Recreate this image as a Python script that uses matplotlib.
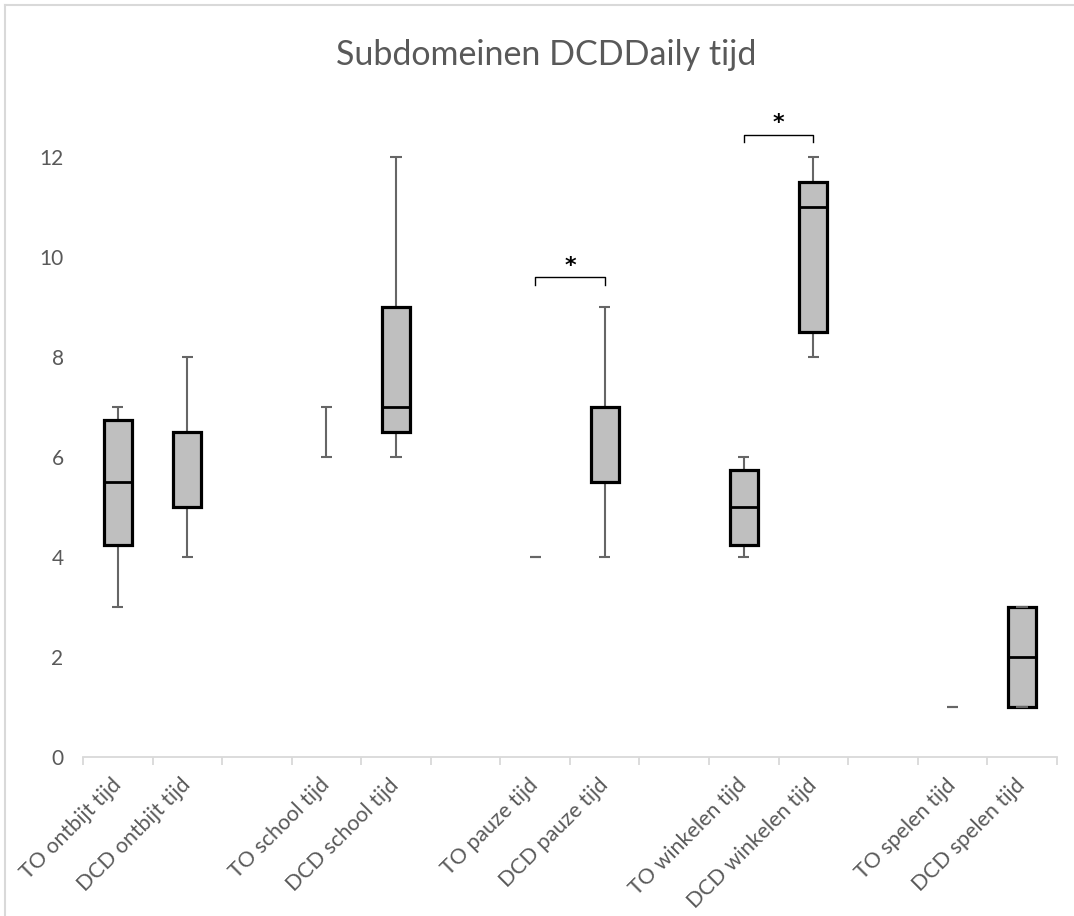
import matplotlib
matplotlib.use("Agg")
import matplotlib.pyplot as plt
from matplotlib.lines import Line2D
import numpy as np

plt.rcParams['font.family'] = ['Lato', 'DejaVu Sans']

# 14 slots, empty slots separate the pairs
labels = ['TO ontbijt tijd', 'DCD ontbijt tijd', '',
          'TO school tijd', 'DCD school tijd', '',
          'TO pauze tijd', 'DCD pauze tijd', '',
          'TO winkelen tijd', 'DCD winkelen tijd', '',
          'TO spelen tijd', 'DCD spelen tijd']
whisk_lo = [3, 4, None, 6, 6, None, 4, 4, None, 4, 8, None, 1, 1]
whisk_hi = [7, 8, None, 7, 12, None, 4, 9, None, 6, 12, None, 1, 3]
q1 = [4.25, 5, None, None, 6.5, None, None, 5.5, None, 4.25, 8.5, None, None, 1]
q3 = [6.75, 6.5, None, None, 9, None, None, 7, None, 5.75, 11.5, None, None, 3]
med = [5.5, 5, None, None, 7, None, None, 5.5, None, 5, 11, None, None, 2]

# significance brackets: (left slot, right slot, height)
sig_pairs = [(6, 7, 9.6), (9, 10, 12.45)]

TXT = '#595959'
GRID = '#d9d9d9'

fig = plt.figure(figsize=(10.74, 9.16), dpi=100)
ax = fig.add_axes([0.0773, 0.1736, 0.9067, 0.7094])

box_w = 0.4
cap_w = 0.16
for i in range(len(labels)):
    if whisk_lo[i] is None:
        continue
    ax.vlines(i, whisk_lo[i], whisk_hi[i], color='#666666', lw=1.5, zorder=2)
    if q1[i] is not None:
        ax.bar(i, q3[i] - q1[i], bottom=q1[i], width=box_w, color='#bfbfbf',
               edgecolor='black', linewidth=2.3, zorder=3)
        ax.hlines(med[i], i - box_w / 2, i + box_w / 2, color='black', lw=2, zorder=4)
    ax.hlines([whisk_lo[i], whisk_hi[i]], i - cap_w / 2, i + cap_w / 2,
              color='#666666', lw=1.5, zorder=5)

for a, b, h in sig_pairs:
    ax.plot([a, a, b, b], [h - 0.15, h, h, h - 0.15], color='black', lw=1, zorder=5)
    ax.text((a + b) / 2, h + 0.03, '*', ha='center', va='bottom',
            fontsize=16, fontweight='bold', color='black', family='DejaVu Sans')

ax.set_xlim(-0.5, len(labels) - 0.5)
ax.set_ylim(0, 13)
ax.set_yticks(np.arange(0, 13, 2))
ax.tick_params(axis='y', length=0, labelsize=15, labelcolor=TXT, pad=14)

ax.set_xticks(np.arange(-0.5, len(labels), 1))
ax.set_xticklabels([])
ax.tick_params(axis='x', which='major', length=6, color=GRID, width=1.3)
ax.set_xticks(np.arange(len(labels)), minor=True)
ax.set_xticklabels(labels, minor=True, rotation=45, ha='right', va='center',
                   rotation_mode='anchor', fontsize=15.5, color=TXT)
ax.tick_params(axis='x', which='minor', length=0, pad=18)

for s in ['top', 'right', 'left']:
    ax.spines[s].set_visible(False)
ax.spines['bottom'].set_color(GRID)
ax.spines['bottom'].set_linewidth(1.3)

fig.text(0.509, 1 - 55 / 916, 'Subdomeinen DCDDaily tijd', ha='center', va='center',
         fontsize=24.5, color=TXT)

# chart border (left and top edges visible)
fig.add_artist(Line2D([0.005, 0.005], [0, 0.995], color=GRID, lw=1.5))
fig.add_artist(Line2D([0.005, 1], [0.995, 0.995], color=GRID, lw=1.5))

fig.savefig('out.png', dpi=100)
